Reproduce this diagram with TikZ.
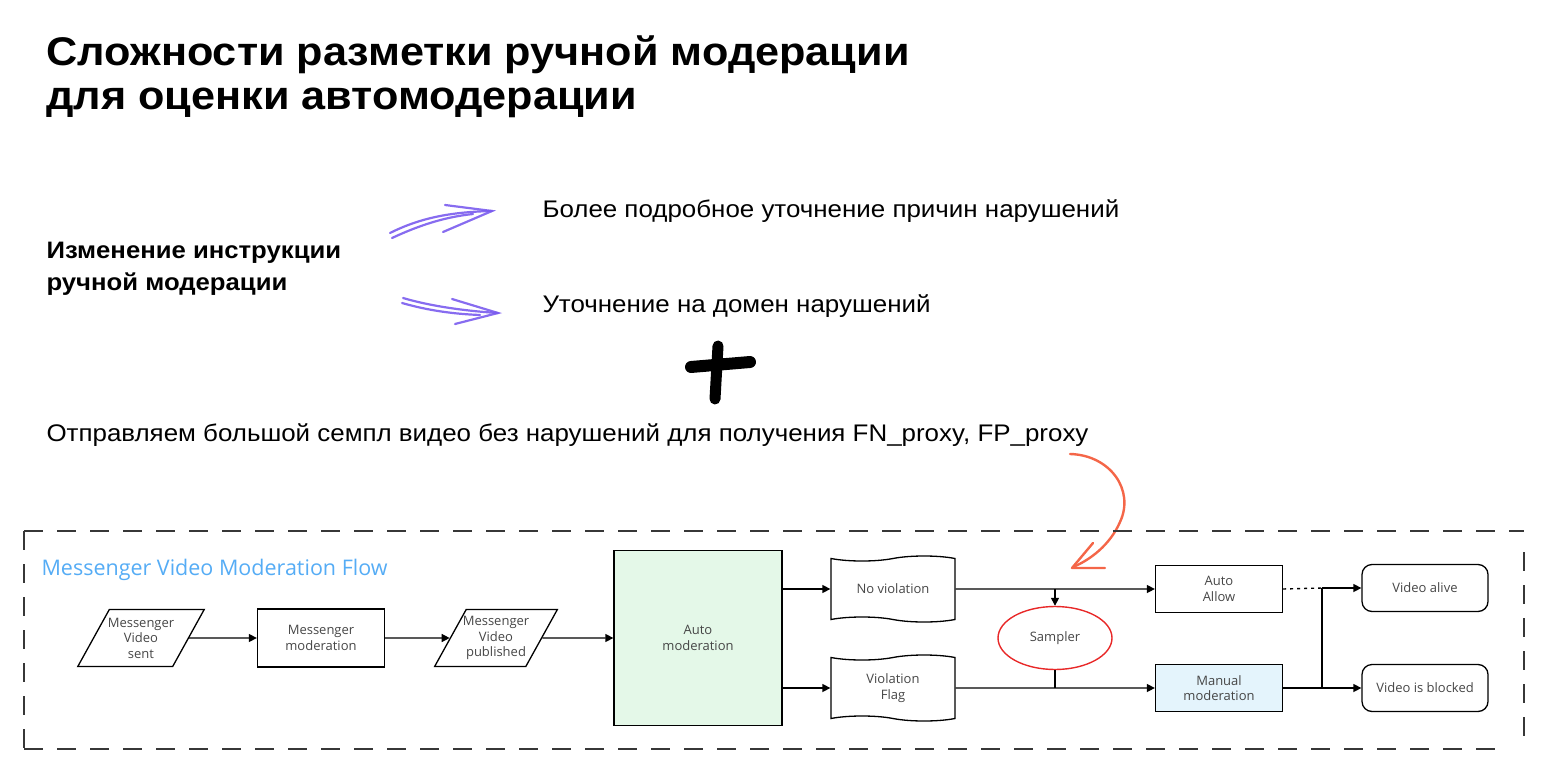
\documentclass[tikz,border=0pt]{standalone}
\usepackage{fontspec}
\setmainfont{Liberation Sans}[FakeStretch=1.08]
\newfontfamily\flowfont{Open Sans}
\usetikzlibrary{arrows.meta,positioning,shapes.geometric,shapes.symbols}
\definecolor{inkgray}{RGB}{70,70,70}
\definecolor{framegray}{RGB}{55,55,55}
\definecolor{flowblue}{RGB}{85,172,245}
\definecolor{autogreen}{RGB}{228,248,232}
\definecolor{manualblue}{RGB}{228,244,252}
\definecolor{samplered}{RGB}{232,40,40}
\definecolor{penpurple}{RGB}{122,92,238}
\definecolor{penorange}{RGB}{244,102,72}

\begin{document}
\begin{tikzpicture}[x=1pt, y=-1pt,
    flowtext/.style={font=\flowfont\fontsize{13}{15.5}\selectfont, text=inkgray, align=center},
    box/.style={rectangle, draw=black, line width=1.3pt, flowtext, minimum width=127pt, minimum height=47pt},
    slant/.style={trapezium, trapezium left angle=61, trapezium right angle=119, draw=black, line width=1.3pt,
                flowtext, minimum width=100pt, minimum height=57pt, inner xsep=-7pt},
    flag/.style={tape, tape bend top=in and out, tape bend bottom=out and in, draw=black, line width=1.3pt,
                flowtext, minimum width=124pt, minimum height=66pt},
    ending/.style={rectangle, rounded corners=10pt, draw=black, line width=1.3pt, flowtext,
                minimum width=126pt, minimum height=47pt},
    arr/.style={-{Triangle[length=8pt,width=8pt]}, line width=1.4pt},
    pen/.style={line width=2.2pt, penpurple, line cap=round, opacity=0.9},
    bigtext/.style={anchor=base west, font=\fontsize{24}{28}\selectfont}]
\useasboundingbox (0,0) rectangle (1560,778);
% heading and notes
\node[bigtext, font=\bfseries\fontsize{40}{46}\selectfont] (title) at (43,66) {Сложности разметки ручной модерации};
\node[bigtext, font=\bfseries\fontsize{40}{46}\selectfont] (title2) at (43,110) {для оценки автомодерации};
\node[bigtext, font=\bfseries\fontsize{23.8}{28}\selectfont] (change) at (43,258) {Изменение инструкции};
\node[bigtext, font=\bfseries\fontsize{23.8}{28}\selectfont] (change2) at (43,290) {ручной модерации};
\node[bigtext] (detail) at (539,218) {Более подробное уточнение причин нарушений};
\node[bigtext] (domain) at (539,312) {Уточнение на домен нарушений};
\node[bigtext] (sample) at (43,441) {Отправляем большой семпл видео без нарушений для получения FN\_proxy, FP\_proxy};
% hand drawn marks
\coordinate (p1a) at (390,233); \coordinate (p1b) at (492,211);
\draw[pen] (p1a) .. controls (420,218) and (450,212) .. (p1b);
\draw[pen] (392,238) .. controls (420,225) and (445,217) .. (473,214);
\draw[pen] (445,205) -- (p1b) -- (443,232);
\coordinate (p2a) at (403,298); \coordinate (p2b) at (498,313);
\draw[pen] (p2a) .. controls (430,306) and (465,311) .. (p2b);
\draw[pen] (402,303) .. controls (430,311) and (455,314) .. (480,315);
\draw[pen] (452,299) -- (p2b) -- (455,324);
\draw[line width=12pt, line cap=round] (691,367) -- (750,362);
\draw[line width=11pt, line cap=round] (718,346) -- (715,399);
\coordinate (o1) at (1070,454); \coordinate (o2) at (1073,567);
\draw[penorange, line width=2.4pt, line cap=round] (o1) .. controls (1110,455) and (1135,490) .. (1120,522)
    .. controls (1110,545) and (1090,560) .. (o2);
\draw[penorange, line width=2.4pt, line cap=round, line join=round] (1093,543) -- (1072,568) -- (1105,568);
% flow frame
\draw[framegray, line width=2.4pt, dash pattern=on 19pt off 14pt] (24,531) -- (1524,531);
\draw[framegray, line width=2.4pt, dash pattern=on 19pt off 14pt] (24,749) -- (1508,749);
\draw[framegray, line width=2.4pt, dash pattern=on 19pt off 14pt] (24,531) -- (24,749);
\draw[framegray, line width=2.4pt, dash pattern=on 19pt off 14pt] (1524,552) -- (1524,747);
\node[anchor=west, font=\flowfont\fontsize{21.5}{25}\selectfont, text=flowblue] (flowname) at (38,570) {Messenger Video Moderation Flow};
% flow nodes
\node[slant] (sent) at (141,638) {Messenger\\Video\\sent};
\node[box, minimum height=58pt] (mmod) at (321,638) {Messenger\\moderation};
\node[slant] (pub) at (496,638) {Messenger\\Video\\published};
\node[box, fill=autogreen, minimum width=168pt, minimum height=175pt] (auto) at (698,638) {Auto\\moderation};
\node[flag] (noviol) at (893,589) {No violation};
\node[flag] (vflag) at (893,688) {Violation\\Flag};
\node[ellipse, draw=samplered, line width=1.4pt, flowtext, minimum width=114pt, minimum height=63pt] (samp) at (1055,638) {Sampler};
\node[box] (allow) at (1219,589) {Auto\\Allow};
\node[box, fill=manualblue] (manual) at (1219,688) {Manual\\moderation};
\node[ending] (alive) at (1425,588) {Video alive};
\node[ending] (blocked) at (1425,688) {Video is blocked};
% connectors
\draw[arr] (sent) -- (mmod);
\draw[arr] (mmod) -- (pub);
\draw[arr] (pub) -- (auto);
\draw[arr] (auto.east |- noviol.west) -- (noviol.west);
\draw[arr] (auto.east |- vflag.west) -- (vflag.west);
\draw[arr] (noviol) -- (allow);
\draw[arr] (samp.north |- noviol.east) -- (samp.north);
\draw[arr] (vflag) -- (manual);
\draw[line width=1.4pt] (samp.south) -- (samp.south |- vflag.east);
\coordinate (join) at (1322,588);
\draw[line width=1.4pt, dash pattern=on 3pt off 4pt] (allow.east) -- (join);
\draw[line width=1.4pt] (manual.east) -- (join |- manual.east) -- (join);
\draw[arr] (join) -- (alive);
\draw[arr] (join |- manual.east) -- (blocked);
\end{tikzpicture}
\end{document}
